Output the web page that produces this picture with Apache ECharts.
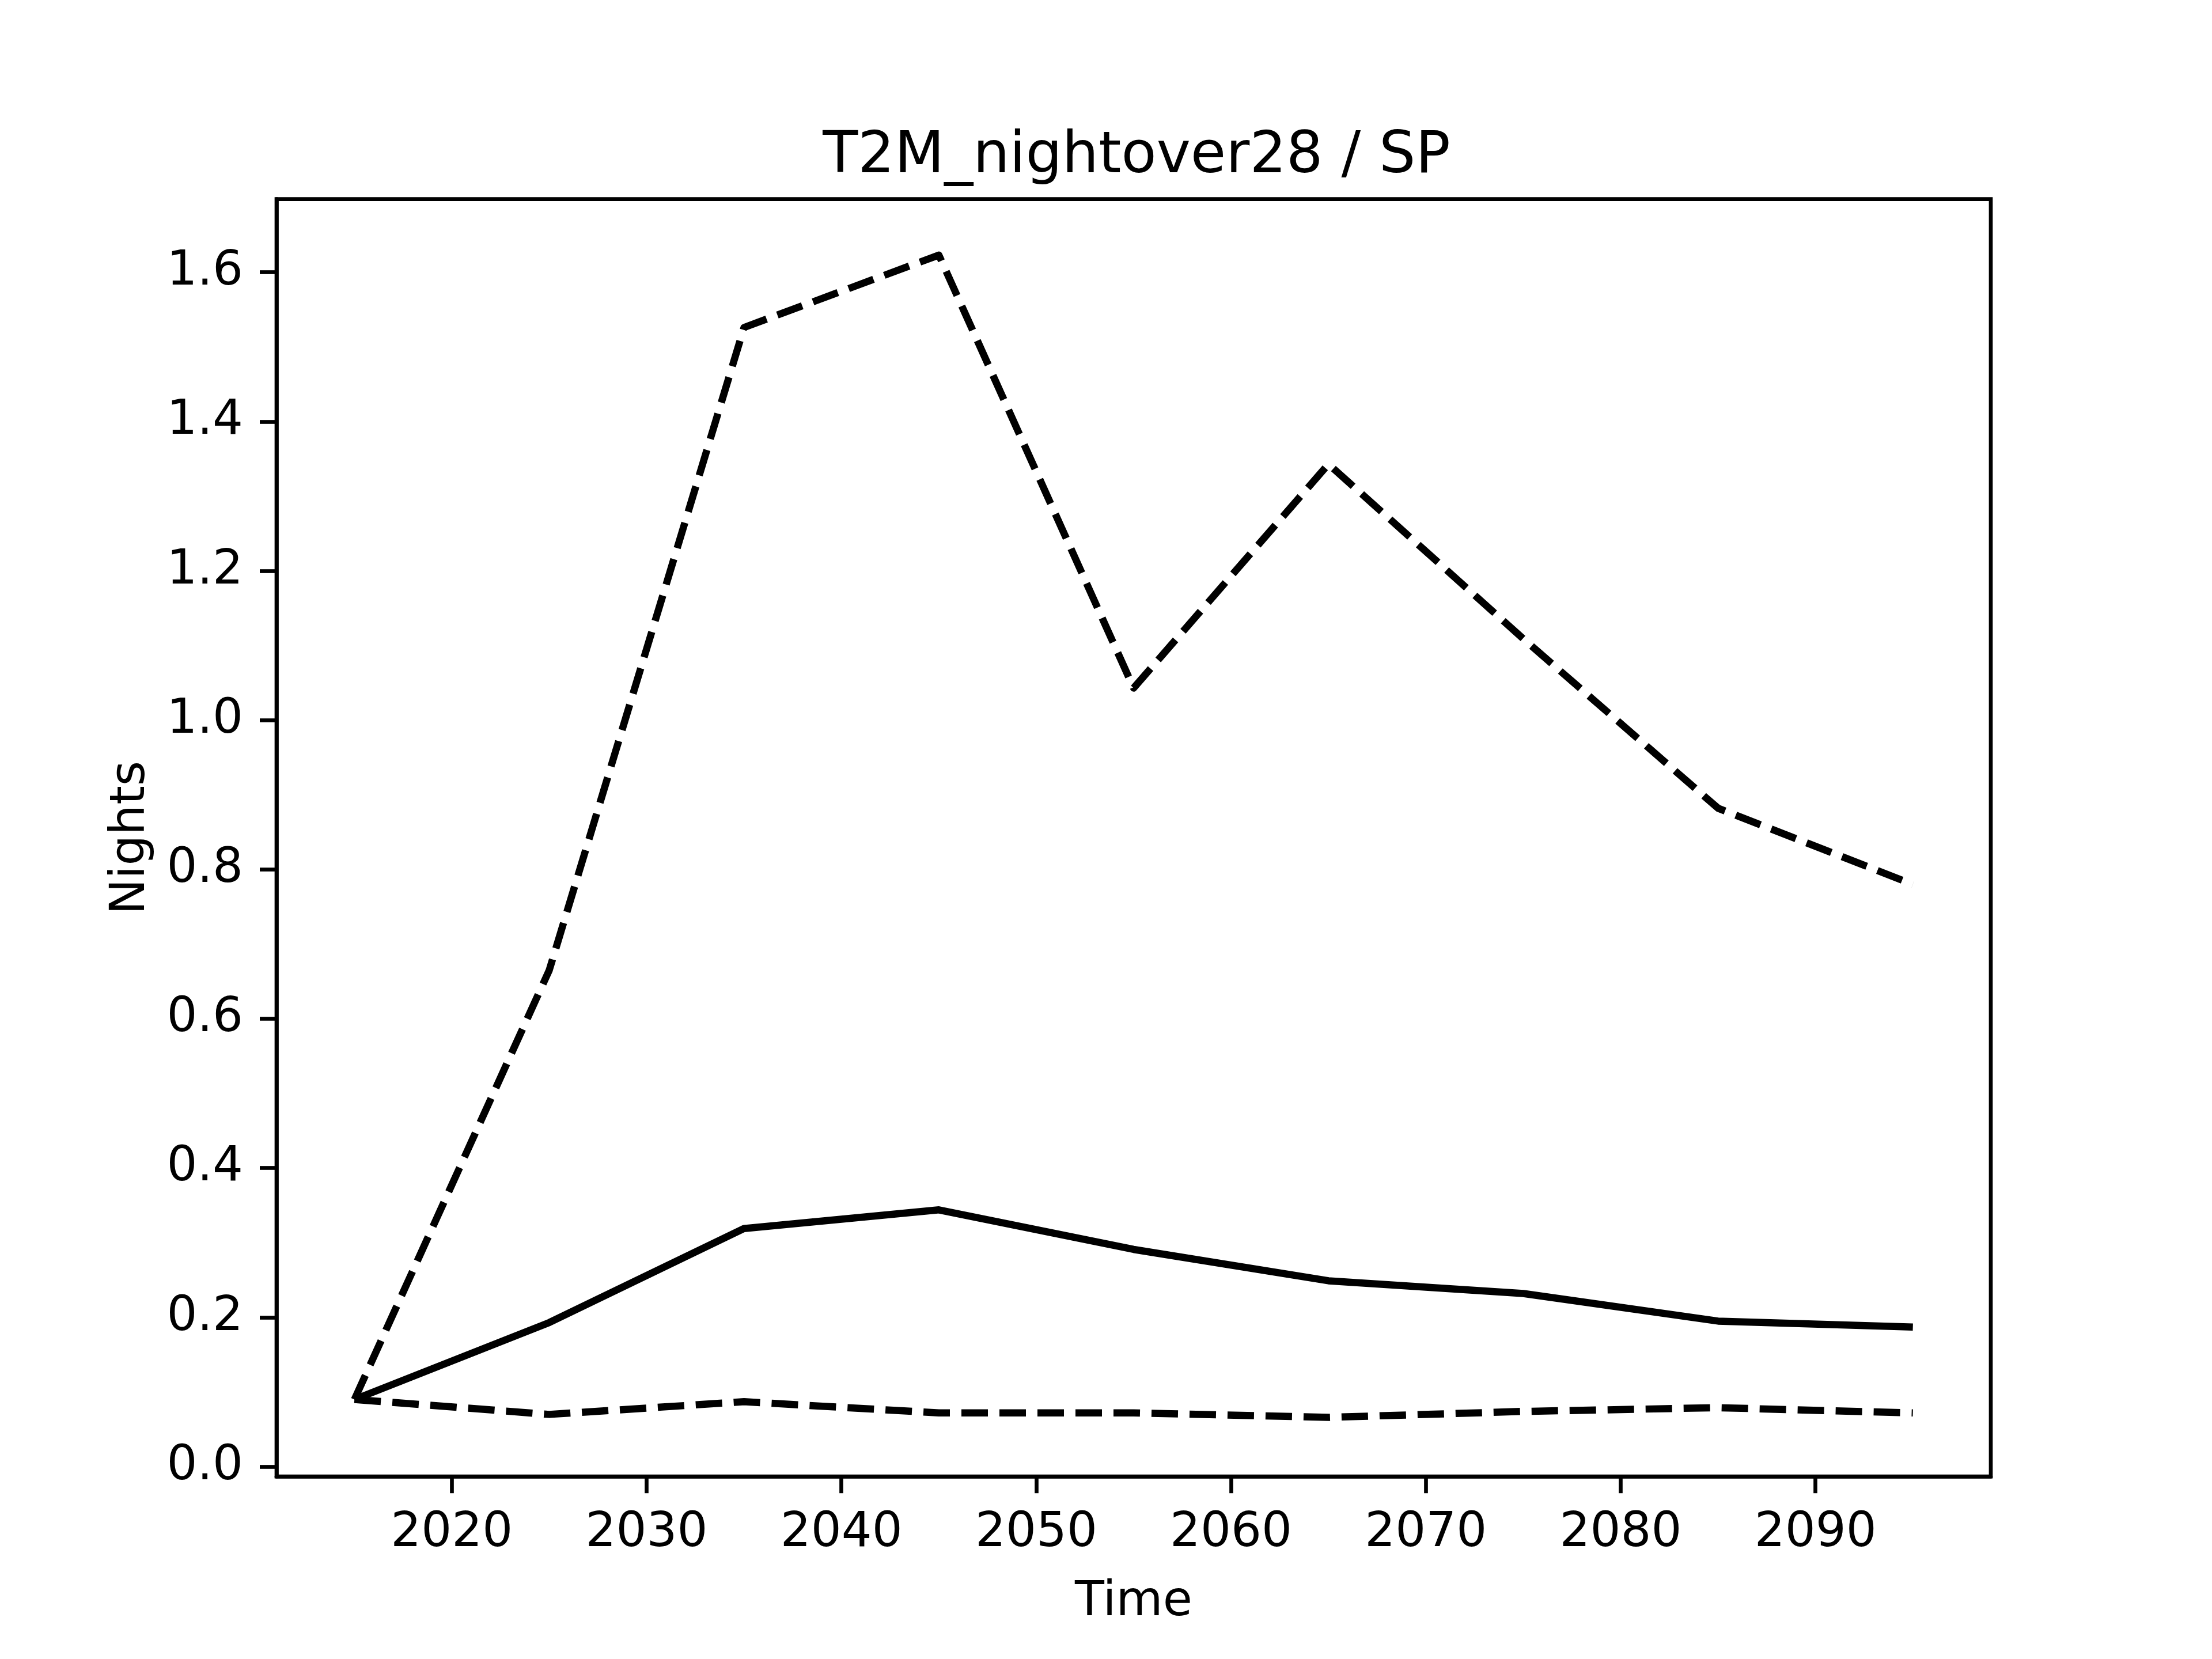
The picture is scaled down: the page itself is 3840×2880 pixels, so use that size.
<!DOCTYPE html>
<html>
<head>
<meta charset="utf-8">
<script src="https://cdn.jsdelivr.net/npm/echarts@6/dist/echarts.min.js"></script>
<style>
html,body{margin:0;padding:0;background:#fff;}
#chart{width:3840px;height:2880px;}
</style>
</head>
<body>
<div id="chart"></div>
<script>
const years = [2015, 2025, 2035, 2045, 2055, 2065, 2075, 2085, 2095];
const upperValues = [0.09, 0.665, 1.526, 1.623, 1.043, 1.343, 1.109, 0.882, 0.780];
const meanValues = [0.09, 0.193, 0.319, 0.344, 0.291, 0.249, 0.232, 0.195, 0.187];
const lowerValues = [0.09, 0.070, 0.087, 0.072, 0.072, 0.066, 0.074, 0.079, 0.072];
const xTicks = [2020, 2030, 2040, 2050, 2060, 2070, 2080, 2090];
const yTicks = [0.0, 0.2, 0.4, 0.6, 0.8, 1.0, 1.2, 1.4, 1.6];

const FONT = 'DejaVu Sans';
const LW = 12.5;
const AXW = 6.67;

function pairs(vals) { return years.map((y, i) => [y, vals[i]]); }

const chart = echarts.init(document.getElementById('chart'), null, {renderer: 'canvas'});
chart.setOption({
  animation: false,
  backgroundColor: '#fff',
  title: {
    text: 'T2M_nightover28 / SP',
    left: 1968, top: 218, textAlign: 'center',
    textStyle: {fontFamily: FONT, fontSize: 100, fontWeight: 'normal', color: '#000'}
  },
  grid: {
    left: 480, right: 384, top: 345.6, bottom: 316.8,
    show: true, borderColor: '#000', borderWidth: AXW, backgroundColor: 'transparent'
  },
  xAxis: {
    type: 'value', min: 2011, max: 2099,
    name: 'Time', nameLocation: 'middle', nameGap: 178,
    nameTextStyle: {fontFamily: FONT, fontSize: 83.3, color: '#000'},
    axisLine: {show: true, onZero: false, lineStyle: {color: '#000', width: AXW}},
    axisTick: {show: true, length: 29, lineStyle: {color: '#000', width: AXW}, customValues: xTicks},
    axisLabel: {show: true, margin: 58, fontFamily: FONT, fontSize: 83.3, color: '#000', customValues: xTicks,
      formatter: v => String(v)},
    splitLine: {show: false}
  },
  yAxis: {
    type: 'value', min: -0.0132, max: 1.698,
    name: 'Nights', nameLocation: 'middle', nameGap: 210, nameRotate: 90,
    nameTextStyle: {fontFamily: FONT, fontSize: 83.3, color: '#000'},
    axisLine: {show: true, onZero: false, lineStyle: {color: '#000', width: AXW}},
    axisTick: {show: true, length: 29, lineStyle: {color: '#000', width: AXW}, customValues: yTicks},
    axisLabel: {show: true, margin: 58, fontFamily: FONT, fontSize: 83.3, color: '#000', customValues: yTicks,
      formatter: v => Number(v).toFixed(1)},
    splitLine: {show: false}
  },
  series: [
    {type: 'line', data: pairs(upperValues), showSymbol: false, symbol: 'none',
      lineStyle: {color: '#000', width: LW, type: [46, 20], cap: 'butt', join: 'round'}},
    {type: 'line', data: pairs(meanValues), showSymbol: false, symbol: 'none',
      lineStyle: {color: '#000', width: LW, type: 'solid', cap: 'butt', join: 'round'}},
    {type: 'line', data: pairs(lowerValues), showSymbol: false, symbol: 'none',
      lineStyle: {color: '#000', width: LW, type: [46, 20], cap: 'butt', join: 'round'}}
  ]
});
</script>
</body>
</html>
